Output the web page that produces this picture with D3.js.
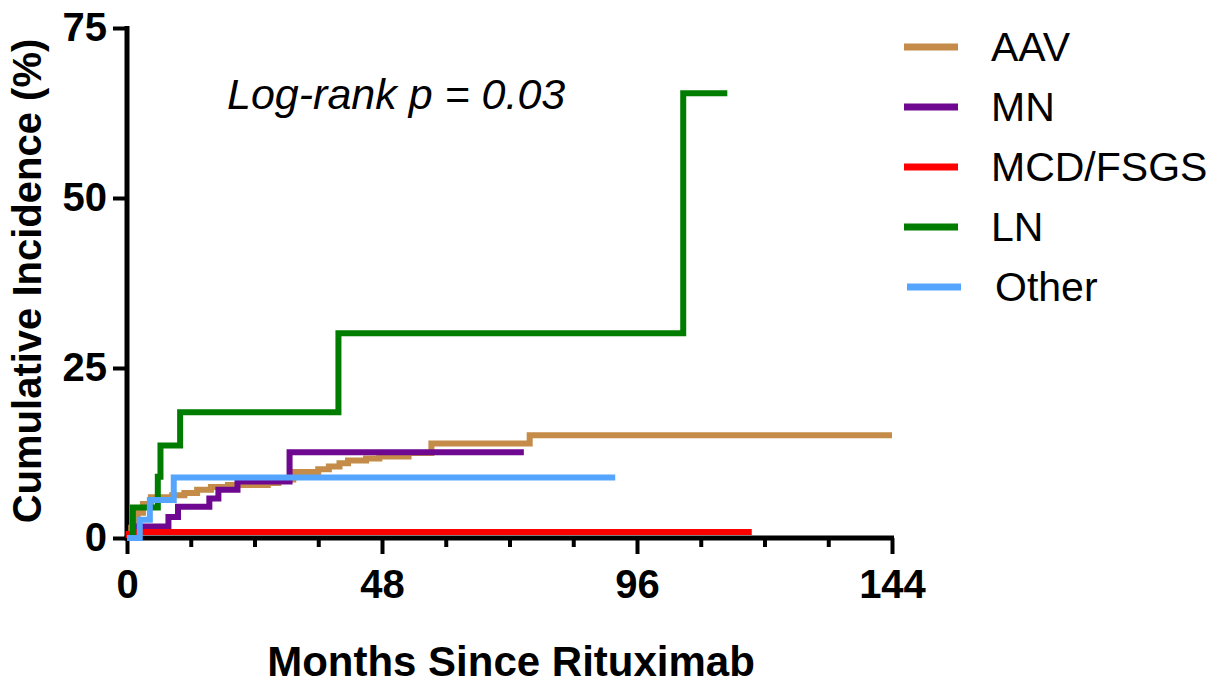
<!DOCTYPE html>
<html>
<head>
<meta charset="utf-8">
<script src="https://cdn.jsdelivr.net/npm/d3@7/dist/d3.min.js"></script>
<style>
  body { margin: 0; background: #fff; }
  text { font-family: "Liberation Sans", Arial, sans-serif; }
</style>
</head>
<body>
<div id="chart"></div>
<script>
// series: [month, cumulative incidence %]
var aav = [[0,0],[0.8,1.5],[1.5,3.0],[2.0,3.7],[3.0,5.0],[4.5,6.0],[8.5,6.3],[10.8,6.6],[13.2,7.1],[15.8,7.5],[19,7.8],[26.5,8.1],[28.5,8.6],[31.3,9.7],[36,10.1],[38,10.5],[40,11.0],[41.6,11.4],[45,11.7],[47.5,12.0],[53,12.5],[57.3,13.9],[75.8,15.1],[144,15.1]];
var mn = [[0,0],[1.5,1.7],[7.8,3.1],[9.6,4.6],[15.5,5.8],[17.2,7.1],[20.8,8.3],[30.6,12.6],[74.7,12.6]];
var mcd = [[0,0],[0.3,0.6],[2.2,0.9],[117.6,0.9]];
var ln = [[0,0],[1.1,4.5],[5.8,9.0],[6.3,13.6],[10,18.5],[39.8,30.1],[104.7,65.4],[113,65.4]];
var other = [[0,0],[2.4,2.7],[4.3,5.6],[8.8,8.9],[91.9,8.9]];

var seriesNames = ["AAV", "MN", "MCD/FSGS", "LN", "Other"];
var seriesColors = ["#C48C48", "#6E0890", "#FF0000", "#007D00", "#55A5FF"];
var seriesData = [aav, mn, mcd, ln, other];

var xMajorTicks = [0, 48, 96, 144];
var xMinorTicks = [12, 24, 36, 60, 72, 84, 108, 120, 132];
var yTicks = [0, 25, 50, 75];

var W = 1214, H = 685;

var svg = d3.select("#chart").append("svg")
  .attr("width", W)
  .attr("height", H);

var x = d3.scaleLinear().domain([0, 144]).range([127, 892]);
var y = d3.scaleLinear().domain([0, 75]).range([538, 28]);

//x axis, major and minor ticks
var gxMinor = svg.append("g")
  .attr("transform", "translate(0," + y(0) + ")")
  .call(d3.axisBottom(x).tickValues(xMinorTicks).tickSize(9).tickFormat(""));
gxMinor.select(".domain").remove();

var gx = svg.append("g")
  .attr("transform", "translate(0," + y(0) + ")")
  .call(d3.axisBottom(x).tickValues(xMajorTicks).tickSize(16).tickSizeOuter(0).tickPadding(16));

var gy = svg.append("g")
  .attr("transform", "translate(" + x(0) + ",0)")
  .call(d3.axisLeft(y).tickValues(yTicks).tickSize(14).tickSizeOuter(0).tickPadding(6));

svg.selectAll(".tick line").attr("stroke", "#000").attr("stroke-width", 4);
svg.selectAll(".domain").attr("stroke", "#000").attr("stroke-width", 5);
gx.select(".domain").attr("d", "M" + (x(0) - 2.5) + ",0H" + (x(144) + 2));
gy.select(".domain").attr("d", "M0," + (y(0) + 2.5) + "V" + (y(75) - 2));

svg.selectAll(".tick text")
  .attr("font-family", "'Liberation Sans', Arial, sans-serif")
  .attr("font-size", 40)
  .attr("font-weight", "bold")
  .attr("fill", "#000");
gx.selectAll(".tick text").attr("dy", "0.71em");

//step curves
var line = d3.line()
  .x(function(d) { return x(d[0]); })
  .y(function(d) { return y(d[1]); })
  .curve(d3.curveStepAfter);

svg.append("g").attr("class", "curves")
  .selectAll("path")
  .data(seriesData)
  .enter()
  .append("path")
  .attr("d", line)
  .attr("fill", "none")
  .attr("stroke", function(d, i) { return seriesColors[i]; })
  .attr("stroke-width", 6)
  .attr("stroke-linejoin", "miter");

//legend
var legend = svg.append("g").attr("class", "legend");
var items = legend.selectAll("g")
  .data(seriesNames)
  .enter()
  .append("g")
  .attr("transform", function(d, i) { return "translate(0," + (47 + i * 60) + ")"; });

items.append("line")
  .attr("x1", function(d, i) { return i === 4 ? 907 : 904; })
  .attr("x2", function(d, i) { return i === 4 ? 961 : 958; })
  .attr("y1", 0)
  .attr("y2", 0)
  .attr("stroke", function(d, i) { return seriesColors[i]; })
  .attr("stroke-width", 7);

items.append("text")
  .attr("x", function(d, i) { return i === 4 ? 995 : 991; })
  .attr("y", 14)
  .attr("font-size", 41)
  .attr("fill", "#000")
  .text(function(d) { return d; });

//annotation
svg.append("text")
  .attr("x", 227)
  .attr("y", 109)
  .attr("font-size", 43)
  .attr("font-style", "italic")
  .attr("fill", "#000")
  .text("Log-rank p = 0.03");

//axis titles
svg.append("text")
  .attr("x", 511)
  .attr("y", 676)
  .attr("text-anchor", "middle")
  .attr("font-size", 42)
  .attr("font-weight", "bold")
  .text("Months Since Rituximab");

svg.append("text")
  .attr("transform", "translate(41,281) rotate(-90)")
  .attr("text-anchor", "middle")
  .attr("font-size", 40)
  .attr("font-weight", "bold")
  .text("Cumulative Incidence (%)");
</script>
</body>
</html>
